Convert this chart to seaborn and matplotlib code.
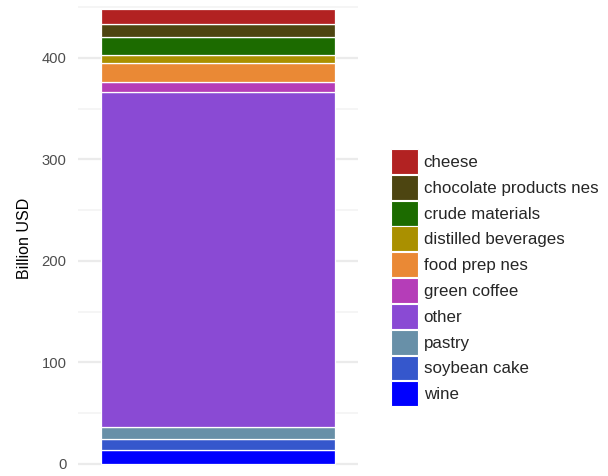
import pandas as pd
import seaborn as sns
import matplotlib.pyplot as plt
from matplotlib.patches import Patch

# --------------------------
# Data (billion USD), bottom to top
# --------------------------
categories = ["wine", "soybean cake", "pastry", "other", "green coffee",
              "food prep nes", "distilled beverages", "crude materials",
              "chocolate products nes", "cheese"]
values = [13.5, 11.1, 11.5, 330.1, 9.5, 19.1, 8.1, 17.5, 12.8, 14.7]
colors = ["#0000FF", "#3557CC", "#6890A8", "#8A4AD4", "#B53DB8",
          "#EA8935", "#AA9000", "#1C6B00", "#4D4511", "#B22222"]

df = pd.DataFrame({"category": categories, "value": values, "color": colors})
df["bottom"] = df["value"].cumsum() - df["value"]
df["x"] = ""

sns.set_theme(style="white")
plt.rcParams["font.family"] = ["Liberation Sans", "DejaVu Sans"]

fig = plt.figure(figsize=(6.08, 4.76), dpi=100)
ax = fig.add_axes([78 / 608, 0.004, 280 / 608, 0.992])

for _, row in df.iterrows():
    sns.barplot(
        x=[row["x"]],
        y=[row["value"]],
        bottom=row["bottom"],
        color=row["color"],
        saturation=1,
        width=0.8,
        edgecolor="white",
        linewidth=0.9,
        ax=ax,
    )

ax.set_xlim(-0.48, 0.48)
ax.set_ylim(-10, 455)
ax.set_yticks([0, 100, 200, 300, 400])
ax.set_yticks([50, 150, 250, 350, 450], minor=True)
ax.yaxis.grid(True, which="major", color="#EBEBEB", linewidth=1.6)
ax.yaxis.grid(True, which="minor", color="#F2F2F2", linewidth=1.1)
ax.xaxis.grid(False)
ax.set_axisbelow(True)
for s in ax.spines.values():
    s.set_visible(False)
ax.tick_params(axis="y", which="both", length=0, pad=8.2, labelsize=10.6, labelcolor="#4D4D4D")
ax.tick_params(axis="x", length=0, labelbottom=False)
ax.set_xlabel("")
ax.set_ylabel("Billion USD", fontsize=11.5, color="black", labelpad=7)

handles = [Patch(facecolor=c, edgecolor="white", linewidth=0.8) for c in colors[::-1]]
fig.legend(
    handles, categories[::-1],
    loc="upper left",
    bbox_to_anchor=(391 / 608, 1 - 149 / 476),
    frameon=False,
    fontsize=12.2,
    handlelength=1.57,
    handleheight=1.89,
    labelspacing=0.05,
    handletextpad=0.36,
    borderpad=0,
    borderaxespad=0,
)

fig.savefig("out.png", dpi=100)
